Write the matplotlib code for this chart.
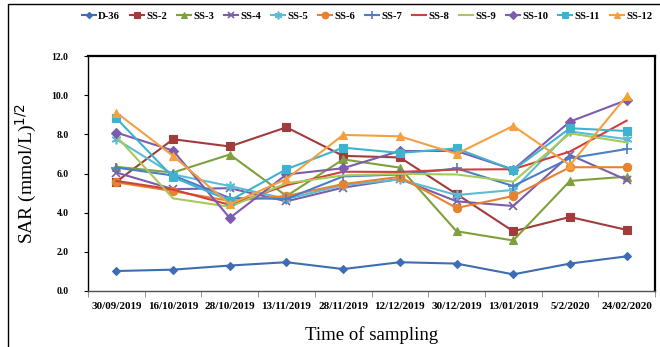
import matplotlib
matplotlib.use("Agg")
import matplotlib.pyplot as plt
from matplotlib.patches import Rectangle
from matplotlib.ticker import FixedLocator, NullFormatter
import numpy as np

dates = ["30/09/2019", "16/10/2019", "28/10/2019", "13/11/2019", "28/11/2019",
         "12/12/2019", "30/12/2019", "13/01/2019", "5/2/2020", "24/02/2020"]

d36  = [1.02, 1.09, 1.30, 1.47, 1.12, 1.47, 1.40, 0.85, 1.40, 1.77]
ss2  = [5.58, 7.75, 7.38, 8.36, 6.90, 6.82, 4.95, 3.05, 3.78, 3.12]
ss3  = [6.34, 6.05, 6.97, 4.85, 6.72, 6.30, 3.05, 2.58, 5.62, 5.84]
ss4  = [6.05, 5.20, 5.25, 4.58, 5.28, 5.72, 4.58, 4.34, 6.95, 5.67]
ss5  = [7.75, 5.95, 5.36, 4.70, 5.40, 5.70, 4.90, 5.16, 8.15, 7.75]
ss6  = [5.55, 5.10, 4.60, 4.85, 5.46, 5.83, 4.24, 4.85, 6.32, 6.32]
ss7  = [6.30, 5.90, 4.75, 4.70, 5.85, 5.95, 6.26, 5.36, 6.78, 7.25]
ss8  = [5.62, 5.18, 4.40, 5.40, 6.09, 6.08, 6.20, 6.22, 7.12, 8.70]
ss9  = [7.90, 4.73, 4.30, 5.50, 5.90, 5.98, 5.95, 5.58, 8.05, 7.59]
ss10 = [8.09, 7.17, 3.73, 5.95, 6.27, 7.15, 7.15, 6.20, 8.65, 9.75]
ss11 = [8.82, 5.81, 4.62, 6.22, 7.32, 7.05, 7.28, 6.18, 8.31, 8.17]
ss12 = [9.11, 6.90, 4.43, 5.72, 7.97, 7.90, 7.00, 8.43, 6.43, 9.96]

names = ["D-36", "SS-2", "SS-3", "SS-4", "SS-5", "SS-6", "SS-7", "SS-8",
         "SS-9", "SS-10", "SS-11", "SS-12"]
series = [d36, ss2, ss3, ss4, ss5, ss6, ss7, ss8, ss9, ss10, ss11, ss12]
colors = ["#3F6DB3", "#A23B3B", "#7FA03C", "#7A5EA8", "#5BBCD6", "#E8822E",
          "#4A7EC6", "#D0403C", "#A8C85A", "#7E5BAE", "#3FB2CF", "#F5A040"]
markers = ["D", "s", "^", "x", (6, 2, 0), "o", "+", None, None, "D", "s", "^"]
msizes = [4, 6, 6, 6, 7, 6, 7, 0, 0, 5, 6, 6]

plt.rcParams['font.family'] = ['Liberation Serif', 'DejaVu Serif']

fig = plt.figure(figsize=(6.6, 3.47), dpi=100)
ax = fig.add_axes([88/660, 1-291/347, (655-88)/660, (291-56)/347])

x = np.arange(len(dates))
for vals, name, c, m, ms in zip(series, names, colors, markers, msizes):
    ax.plot(x, vals, color=c, lw=1.5, marker=m, markersize=ms,
            markeredgewidth=1.2 if m in ("x", "+", (6, 2, 0)) else 0.8,
            markeredgecolor=c, markerfacecolor=c, label=name)

ax.set_xlim(-0.5, len(dates) - 0.5)
ax.set_ylim(0, 12)
ax.set_yticks(np.arange(0, 12.1, 2))
ax.set_yticklabels([f"{v:.1f}" for v in np.arange(0, 12.1, 2)],
                   fontsize=7, fontweight='bold')
ax.set_xticks(x)
ax.set_xticklabels(dates, fontsize=8, fontweight='bold')
ax.xaxis.set_minor_locator(FixedLocator(np.arange(-0.5, len(dates), 1.0)))
ax.xaxis.set_minor_formatter(NullFormatter())
ax.tick_params(axis='x', which='major', length=0, pad=8)
ax.tick_params(axis='x', which='minor', length=4, color='#808080', direction='out')
ax.tick_params(axis='y', which='major', length=3, direction='out', pad=11)

for s in ['top', 'right']:
    ax.spines[s].set_linewidth(1.6)
    ax.spines[s].set_color('black')
ax.spines['left'].set_linewidth(1.0)
ax.spines['bottom'].set_linewidth(1.0)
ax.spines['bottom'].set_color('#505050')

ax.set_ylabel("SAR (mmol/L)$^{1/2}$", fontsize=14)
ax.set_xlabel("Time of sampling", fontsize=13.5, labelpad=11)
ax.yaxis.set_label_coords(-0.087, 0.5)

leg = fig.legend(loc='center', bbox_to_anchor=(367/660, 1-16/347), ncol=12,
                 frameon=False, handlelength=1.3, handletextpad=0.25,
                 columnspacing=0.9, borderaxespad=0,
                 prop={'family': 'Liberation Serif', 'weight': 'bold', 'size': 7.7})
for h in leg.legend_handles:
    try:
        h.set_markersize(h.get_markersize() * 0.8)
    except Exception:
        pass

fig.add_artist(Rectangle((8/660, -0.1), 1.2, 1.1 - 4/347 + 0.0,
                         transform=fig.transFigure, fill=False,
                         edgecolor='black', lw=1.0))

fig.savefig("out.png", dpi=100)
